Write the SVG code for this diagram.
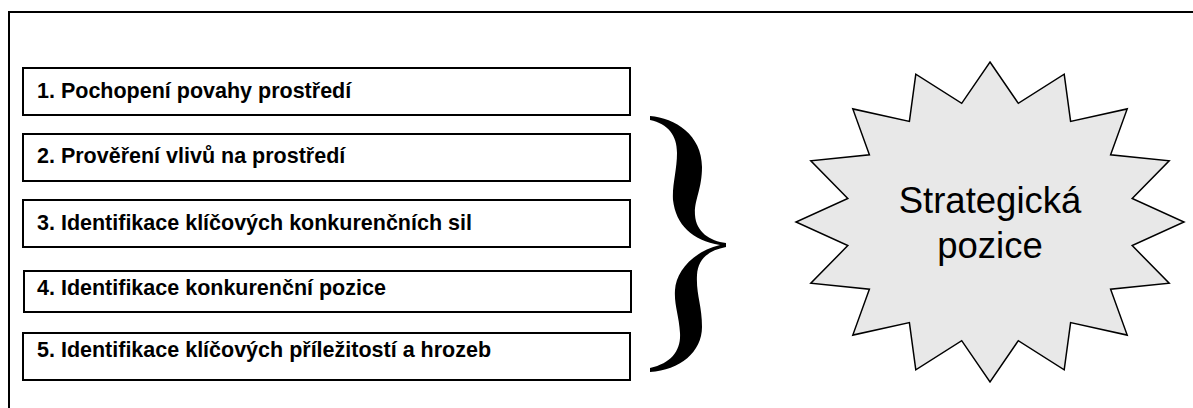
<svg xmlns="http://www.w3.org/2000/svg" width="1193" height="408" viewBox="0 0 1193 408">
<style>
.box{fill:#fff;stroke:#000;stroke-width:2}
.lbl{font-family:"Liberation Sans",Arial,sans-serif;font-weight:bold;font-size:21.5px;fill:#000}
.star{fill:#e8e8e8;stroke:#000;stroke-width:1.5;stroke-linejoin:miter}
.big{font-family:"Liberation Sans",Arial,sans-serif;font-size:36.5px;fill:#000;text-anchor:middle}
</style>
<rect width="1193" height="408" fill="#fff"/>
<g id="frame" fill="none" stroke="#000" stroke-width="2">
<path d="M9,408 V12 H1193"/>
</g>
<g id="step1"><rect class="box" x="23" y="68" width="607" height="47"/><text class="lbl" x="37" y="98">1. Pochopení povahy prostředí</text></g>
<g id="step2"><rect class="box" x="23" y="134" width="607" height="47"/><text class="lbl" x="37" y="163">2. Prověření vlivů na prostředí</text></g>
<g id="step3"><rect class="box" x="23" y="200" width="607" height="47"/><text class="lbl" x="37" y="230">3. Identifikace klíčových konkurenčních sil</text></g>
<g id="step4"><rect class="box" x="24" y="271" width="607" height="41"/><text class="lbl" x="37" y="295">4. Identifikace konkurenční pozice</text></g>
<g id="step5"><rect class="box" x="23" y="333" width="607" height="47"/><text class="lbl" x="37" y="357">5. Identifikace klíčových příležitostí a hrozeb</text></g>
<g id="connectors">
<path id="brace" fill="#000" d="M650,116 C675,118 702,135 702,167 C702,190 694,200 695,215 C696,232 710,241 726,243 L726,247 C710,250 698,258 697,275 C696,295 702,305 702,327 C702,352 680,370 650,372 L650,368 C672,363 681,350 680,333 C679,315 674,305 675,290 C676,272 692,252 720,245 C692,240 676,225 673,200 C672,185 677,170 677,153 C677,135 668,124 650,120 Z"/>
</g>
<g id="strategic">
<polygon class="star" points="990,62 1018.3,103.3 1064.2,74.2 1070.6,121.4 1127.2,108.9 1110.6,154.8 1169.2,160.8 1132.2,198.4 1184,222 1132.2,245.6 1169.2,283.2 1110.6,289.2 1127.2,335.1 1070.6,322.6 1064.2,369.8 1018.3,340.7 990,382 961.7,340.7 915.8,369.8 909.4,322.6 852.8,335.1 869.4,289.2 810.8,283.2 847.8,245.6 796,222 847.8,198.4 810.8,160.8 869.4,154.8 852.8,108.9 909.4,121.4 915.8,74.2 961.7,103.3"/>
<text class="big" x="990" y="213">Strategická</text>
<text class="big" x="990" y="258">pozice</text>
</g>
</svg>
